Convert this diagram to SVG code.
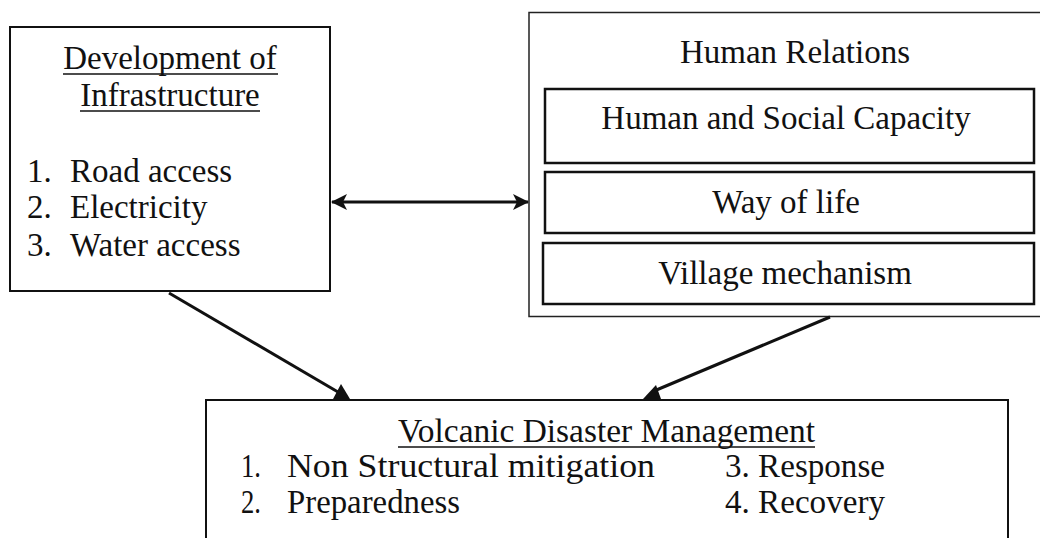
<svg xmlns="http://www.w3.org/2000/svg" width="1040" height="538" viewBox="0 0 1040 538">
  <style>
    .box { fill: #fff; stroke: #111; stroke-width: 2; }
    .outer { fill: #fff; stroke: #222; stroke-width: 1.5; }
    .inner { fill: #fff; stroke: #111; stroke-width: 2.5; }
    .t { font-family: "Liberation Serif", "Times New Roman", serif; font-size: 33px; fill: #111; }
    .c { text-anchor: middle; }
    .ul { stroke: #111; stroke-width: 1.6; }
    .conn { stroke: #111; stroke-width: 3; fill: none; }
    .head { fill: #111; stroke: none; }
  </style>
  <defs>
    <marker id="arr" viewBox="0 0 16 18" refX="15" refY="9" markerWidth="16" markerHeight="18" markerUnits="userSpaceOnUse" orient="auto-start-reverse">
      <path d="M0,1 L16,9 L0,17 L4,9 z" fill="#111"/>
    </marker>
  </defs>

  <rect width="1040" height="538" fill="#fff"/>

  <!-- Development of Infrastructure -->
  <g id="infrastructure">
    <rect class="box" x="10" y="27" width="320" height="264"/>
    <text class="t c" x="170" y="69">Development of</text>
    <line class="ul" x1="63" y1="74" x2="278" y2="74"/>
    <text class="t c" x="170" y="106">Infrastructure</text>
    <line class="ul" x1="80" y1="111" x2="260" y2="111"/>
    <text class="t" x="27" y="182">1.</text><text class="t" x="70" y="182">Road access</text>
    <text class="t" x="27" y="218">2.</text><text class="t" x="70" y="218">Electricity</text>
    <text class="t" x="27" y="256">3.</text><text class="t" x="70" y="256">Water access</text>
  </g>

  <!-- Human Relations -->
  <g id="human-relations">
    <rect class="outer" x="529" y="12.5" width="520" height="304"/>
    <text class="t c" x="795" y="63">Human Relations</text>
    <g id="capacity">
      <rect class="inner" x="545" y="89" width="489" height="74"/>
      <text class="t c" x="786" y="129">Human and Social Capacity</text>
    </g>
    <g id="way-of-life">
      <rect class="inner" x="545" y="172" width="489" height="61"/>
      <text class="t c" x="786" y="213">Way of life</text>
    </g>
    <g id="village">
      <rect class="inner" x="543" y="243" width="491" height="61"/>
      <text class="t c" x="785" y="284">Village mechanism</text>
    </g>
  </g>

  <!-- Volcanic Disaster Management -->
  <g id="disaster-management">
    <rect class="box" x="206" y="400" width="802" height="170"/>
    <text class="t" x="398" y="442" font-size="37" textLength="417" lengthAdjust="spacingAndGlyphs">Volcanic Disaster Management</text>
    <line class="ul" x1="398" y1="447" x2="815" y2="447"/>
    <text class="t" x="241" y="477" font-size="37" textLength="20" lengthAdjust="spacingAndGlyphs">1.</text>
    <text class="t" x="287" y="477" font-size="37" textLength="368" lengthAdjust="spacingAndGlyphs">Non Structural mitigation</text>
    <text class="t" x="725" y="477" font-size="37" textLength="160" lengthAdjust="spacingAndGlyphs">3. Response</text>
    <text class="t" x="241" y="513" font-size="37" textLength="20" lengthAdjust="spacingAndGlyphs">2.</text>
    <text class="t" x="287" y="513" font-size="37" textLength="173" lengthAdjust="spacingAndGlyphs">Preparedness</text>
    <text class="t" x="725" y="513" font-size="37" textLength="160" lengthAdjust="spacingAndGlyphs">4. Recovery</text>
  </g>

  <!-- Connectors -->
  <g id="connectors">
    <line class="conn" x1="332" y1="202" x2="528" y2="202" marker-start="url(#arr)" marker-end="url(#arr)"/>
    <line class="conn" x1="169" y1="293" x2="338" y2="392"/>
    <polygon class="head" points="333,399 341,384 350,399"/>
    <line class="conn" x1="830" y1="317" x2="654" y2="391"/>
    <polygon class="head" points="643,399 656,385 661,399"/>
  </g>
</svg>
